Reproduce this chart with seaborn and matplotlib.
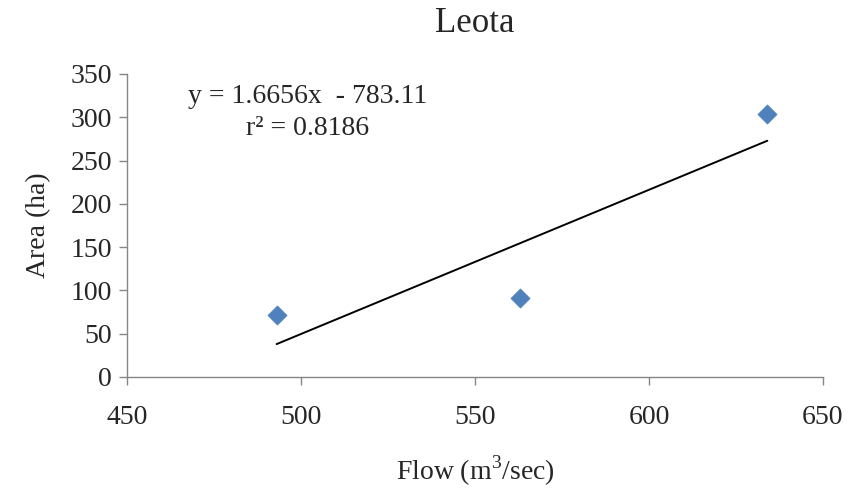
import numpy as np
import pandas as pd
import seaborn as sns
import matplotlib.pyplot as plt

# data
flow = [493, 563, 634]
area = [72, 91, 304]
slope = 1.6656
intercept = -783.11
r2 = 0.8186

x_ticks = [450, 500, 550, 600, 650]
y_ticks = [0, 50, 100, 150, 200, 250, 300, 350]

sns.set_style("white")
plt.rcParams['font.family'] = ['Liberation Serif', 'DejaVu Serif']
plt.rcParams['mathtext.fontset'] = 'custom'
plt.rcParams['mathtext.rm'] = 'Liberation Serif'

df = pd.DataFrame({"flow": flow, "area": area})
trend = pd.DataFrame({"flow": [min(flow), max(flow)]})
trend["area"] = slope * trend["flow"] + intercept

fig = plt.figure(figsize=(8.48, 4.93), dpi=100)
ax = fig.add_axes([0.1498, 0.2353, 0.8207, 0.6146])

sns.lineplot(data=trend, x="flow", y="area", color="black", linewidth=1.4, ax=ax)
sns.scatterplot(data=df, x="flow", y="area", marker="D", s=95, color="#4F81BD",
                edgecolor="#4F81BD", linewidth=0.5, zorder=3, ax=ax)

ax.set_xlim(450, 650)
ax.set_ylim(0, 350)
ax.set_xticks(x_ticks)
ax.set_yticks(y_ticks)
ax.tick_params(axis="both", labelsize=20, direction="out", length=6, width=1,
               color="#868686", bottom=True, left=True)
ax.tick_params(axis="x", pad=14)
ax.tick_params(axis="y", pad=5)
for s in ["top", "right"]:
    ax.spines[s].set_visible(False)
for s in ["left", "bottom"]:
    ax.spines[s].set_color("#868686")
    ax.spines[s].set_linewidth(1)

ax.set_xlabel("Flow (m$^3$/sec)", fontsize=20, labelpad=17)
ax.set_ylabel("Area (ha)", fontsize=20, labelpad=14)
ax.set_title("Leota", fontsize=25, pad=30)

ax.text(0.26, 0.925, f"y = {slope}x  - {abs(intercept)}", transform=ax.transAxes,
        ha="center", va="center", fontsize=20)
ax.text(0.26, 0.82, f"r² = {r2}", transform=ax.transAxes,
        ha="center", va="center", fontsize=20)

fig.savefig("out.png", dpi=100)
